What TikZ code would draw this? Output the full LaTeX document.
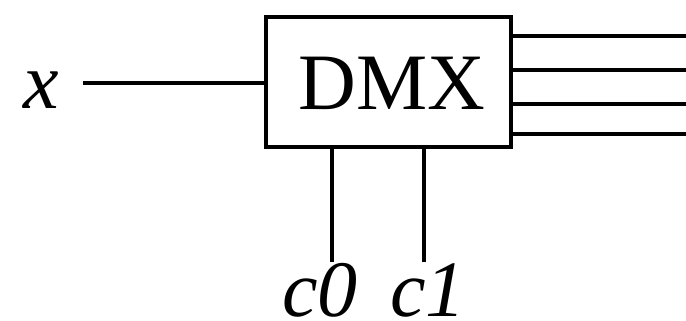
\documentclass[tikz,border=0pt]{standalone}
\usepackage{fontspec}
\setmainfont{Liberation Serif}
\begin{document}
\begin{tikzpicture}[x=1pt,y=1pt,
  lbl/.style={font=\fontsize{80}{96}\selectfont\itshape, inner sep=0pt, anchor=base, text depth=0pt},
  wire/.style={line width=4pt},
  blk/.style={draw, line width=4.5pt, inner sep=0pt, minimum width=245pt, minimum height=130pt, font=\fontsize{80}{96}\selectfont, text depth=0pt, text height=56pt}]
\useasboundingbox (0,0) rectangle (686,-321);
\node[blk] (box) at (388.5,-82) {\hspace*{7pt}DMX};
\node[lbl] (xl) at (41,-108) {x};
\node[lbl] (c0) at (320,-316) {c0};
\node[lbl] (c1) at (428,-316) {c1};
\coordinate (xin) at (83,-83);
\draw[wire] (xin) -- (box.west |- xin);
\foreach \i/\y in {1/36,2/70,3/104,4/134} {
  \coordinate (o\i) at (686,-\y);
  \draw[wire] (box.east |- o\i) -- (o\i);
}
\coordinate (e0) at (332,-262);
\coordinate (e1) at (424,-262);
\draw[line width=3.5pt] (box.south -| e0) -- (e0);
\draw[line width=3.5pt] (box.south -| e1) -- (e1);
\end{tikzpicture}
\end{document}
